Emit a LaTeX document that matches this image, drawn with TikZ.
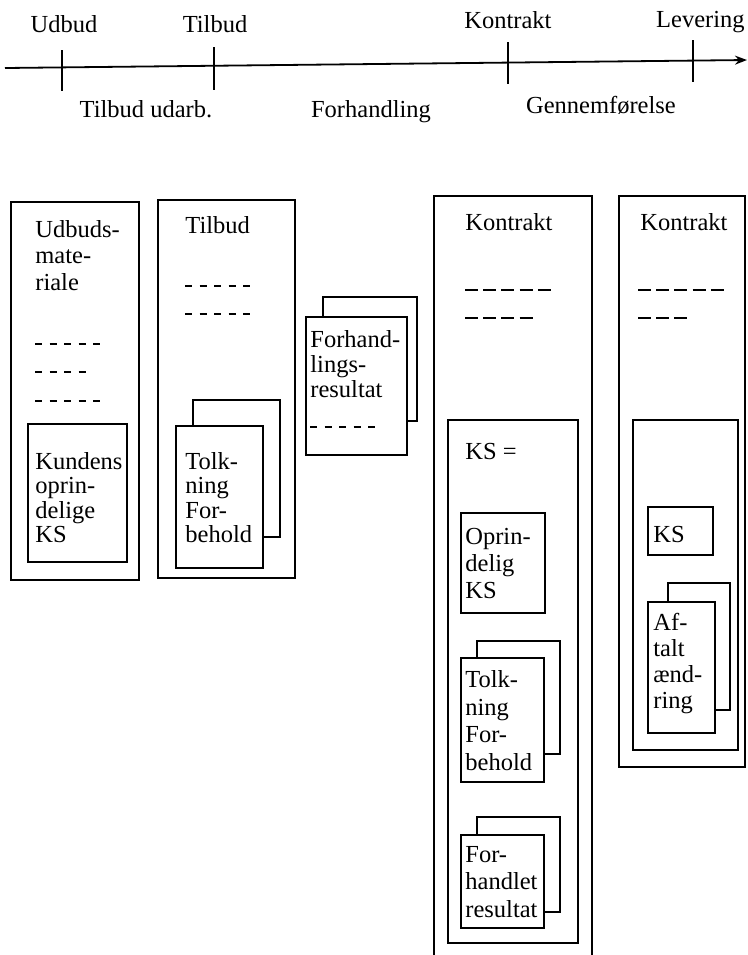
\documentclass[tikz,border=0pt]{standalone}
\usepackage{fontspec}
\setmainfont{Liberation Serif}
\usetikzlibrary{arrows.meta}
\begin{document}
\begin{tikzpicture}[x=0.5pt,y=-0.5pt,
  lbl/.style={inner sep=0pt, font=\fontsize{12.25pt}{13pt}\selectfont},
  txt/.style={inner sep=0pt, anchor=north west, align=left, font=\fontsize{12.25pt}{#1}\selectfont},
  txt/.default=13pt,
  box/.style={draw, line width=0.9pt},
  ibox/.style={draw, line width=0.8pt},
  back/.style={draw, line width=0.6pt},
  tick/.style={line width=0.6pt},
  dshA/.style={line width=0.7pt, dash pattern=on 3.5pt off 3.75pt},
  dshB/.style={line width=0.7pt, dash pattern=on 6.5pt off 2.6pt},
]
\useasboundingbox (0,0) rectangle (748,955);

% ---------- timeline ----------
\coordinate (tlA) at (5,68);
\coordinate (tlB) at (747,60);
\draw[line width=0.9pt, -{Stealth[length=6pt,width=4.5pt]}] (tlA) -- (tlB);
\coordinate (t1a) at (62,50);  \coordinate (t1b) at (62,91);
\coordinate (t2a) at (214,47); \coordinate (t2b) at (214,90);
\coordinate (t3a) at (508,42); \coordinate (t3b) at (508,84);
\coordinate (t4a) at (693,40); \coordinate (t4b) at (693,82);
\draw[tick] (t1a) -- (t1b);
\draw[tick] (t2a) -- (t2b);
\draw[tick] (t3a) -- (t3b);
\draw[tick] (t4a) -- (t4b);

\node[lbl, anchor=base] (lUdbud) at (64,32) {Udbud};
\node[lbl, anchor=base] (lTilbud) at (215,32) {Tilbud};
\node[lbl, anchor=base] (lKontrakt) at (508,28) {Kontrakt};
\node[lbl, anchor=base east] (lLevering) at (745,27) {Levering};
\node[lbl, anchor=base] (lUdarb) at (146,117) {Tilbud udarb.};
\node[lbl, anchor=base] (lForh) at (371,117) {Forhandling};
\node[lbl, anchor=base] (lGenn) at (601,113) {Gennemførelse};

% ---------- column 1 : Udbudsmateriale ----------
\draw[box] (11,202) rectangle (139,580);
\node[txt=13.25pt] (c1title) at (35,220) {Udbuds-\\mate-\\riale};
\coordinate (c1d1a) at (35,344); \coordinate (c1d1b) at (100,344);
\coordinate (c1d2a) at (35,372); \coordinate (c1d2b) at (86,372);
\coordinate (c1d3a) at (35,401); \coordinate (c1d3b) at (100,401);
\draw[dshA] (c1d1a) -- (c1d1b);
\draw[dshA] (c1d2a) -- (c1d2b);
\draw[dshA] (c1d3a) -- (c1d3b);
\draw[ibox] (28,424) rectangle (127,562);
\node[txt=12.2pt] (c1ks) at (35,452) {Kundens\\oprin-\\delige\\KS};

% ---------- column 2 : Tilbud ----------
\draw[box] (158,200) rectangle (295,578);
\node[txt] (c2title) at (185,216) {Tilbud};
\coordinate (c2d1a) at (185,286); \coordinate (c2d1b) at (250,286);
\coordinate (c2d2a) at (185,314); \coordinate (c2d2b) at (250,314);
\draw[dshA] (c2d1a) -- (c2d1b);
\draw[dshA] (c2d2a) -- (c2d2b);
\draw[back] (193,426) -- (193,400) -- (280,400) -- (280,537) -- (263,537);
\draw[ibox] (176,426) rectangle (263,568);
\node[txt=12.2pt] (c2tolk) at (185,452) {Tolk-\\ning\\For-\\behold};

% ---------- column 3 : Forhandlingsresultat ----------
\draw[back] (323,317) -- (323,297) -- (417,297) -- (417,421) -- (407,421);
\draw[ibox] (306,317) rectangle (407,455);
\node[txt=12.5pt] (c3forh) at (310,330) {Forhand-\\lings-\\resultat};
\coordinate (c3da) at (310,427); \coordinate (c3db) at (380,427);
\draw[dshA] (c3da) -- (c3db);

% ---------- column 4 : Kontrakt ----------
\draw[box] (434,956) -- (434,196) -- (592,196) -- (592,956);
\node[txt] (c4title) at (465,213) {Kontrakt};
\coordinate (c4d1a) at (465,290); \coordinate (c4d1b) at (551,290);
\coordinate (c4d2a) at (465,318); \coordinate (c4d2b) at (533,318);
\draw[dshB] (c4d1a) -- (c4d1b);
\draw[dshB] (c4d2a) -- (c4d2b);
\draw[ibox] (448,420) rectangle (578,943);
\node[txt] (c4ks) at (465,443) {KS =};
\draw[ibox] (461,513) rectangle (545,613);
\node[txt=13.5pt] (c4opr) at (465,528) {Oprin-\\delig\\KS};
\draw[back] (477,658) -- (477,641) -- (560,641) -- (560,754) -- (544,754);
\draw[ibox] (461,658) rectangle (544,782);
\node[txt=13.8pt] (c4tolk) at (465,670) {Tolk-\\ning\\For-\\behold};
\draw[back] (477,835) -- (477,817) -- (560,817) -- (560,912) -- (544,912);
\draw[ibox] (461,835) rectangle (544,928);
\node[txt=13.75pt] (c4forh) at (465,846) {For-\\handlet\\resultat};

% ---------- column 5 : Kontrakt ----------
\draw[box] (619,196) rectangle (745,767);
\node[txt] (c5title) at (640,213) {Kontrakt};
\coordinate (c5d1a) at (638,290); \coordinate (c5d1b) at (725,290);
\coordinate (c5d2a) at (638,318); \coordinate (c5d2b) at (687,318);
\draw[dshB] (c5d1a) -- (c5d1b);
\draw[dshB] (c5d2a) -- (c5d2b);
\draw[ibox] (633,420) rectangle (738,750);
\draw[ibox] (648,507) rectangle (713,555);
\node[txt] (c5ks) at (653,526) {KS};
\draw[back] (668,602) -- (668,583) -- (730,583) -- (730,710) -- (715,710);
\draw[ibox] (648,602) rectangle (715,733);
\node[txt] (c5aft) at (653,613) {Af-\\talt\\ænd-\\ring};
\end{tikzpicture}
\end{document}
